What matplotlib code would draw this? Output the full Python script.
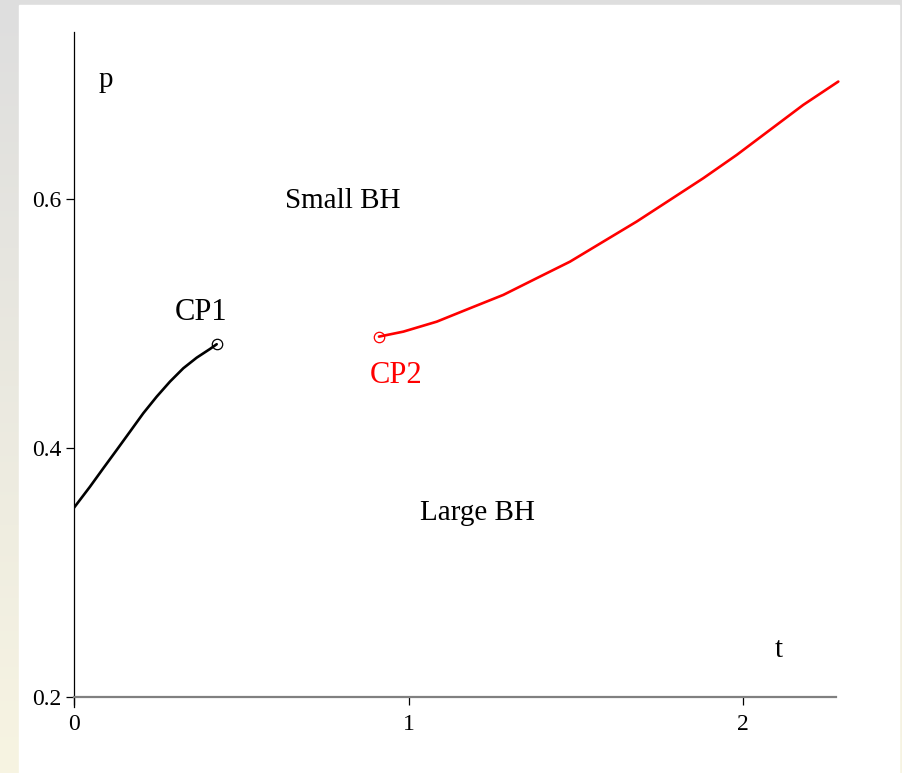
import numpy as np
import matplotlib.pyplot as plt
from matplotlib.colors import LinearSegmentedColormap
from matplotlib.patches import Rectangle

# Coexistence lines (t, p)
cp1_t = [0.0, 0.0478, 0.0876, 0.1277, 0.1674, 0.2072, 0.2472, 0.2870, 0.3268,
         0.3668, 0.4066, 0.4266]
cp1_p = [0.352, 0.3689, 0.3837, 0.3984, 0.4131, 0.4279, 0.4412, 0.4533, 0.4640,
         0.4725, 0.4795, 0.4833]

cp2_t = [0.9118, 0.9845, 1.0843, 1.1839, 1.2834, 1.3832, 1.4828, 1.5824, 1.6822,
         1.7818, 1.8813, 1.9812, 2.0807, 2.1803, 2.2849]
cp2_p = [0.4894, 0.4934, 0.5014, 0.5122, 0.5229, 0.5363, 0.5496, 0.5657, 0.5818,
         0.5992, 0.6166, 0.6353, 0.6554, 0.6755, 0.6942]

x_ticks = [0, 1, 2]
y_ticks = [0.2, 0.4, 0.6]

plt.rcParams['font.family'] = ['Liberation Serif', 'DejaVu Serif']

W, H = 902, 773
fig = plt.figure(figsize=(W / 100, H / 100), dpi=100)

# slide-like background: grey/cream gradient frame with a white panel
bg = fig.add_axes([0, 0, 1, 1])
bg.set_axis_off()
cmap = LinearSegmentedColormap.from_list('bg', ['#dedede', '#f7f4e2'])
grad = np.linspace(0, 1, 256).reshape(-1, 1)
bg.imshow(grad, aspect='auto', cmap=cmap, extent=[0, W, H, 0])
bg.add_patch(Rectangle((19, 5), 899 - 19, H - 5, color='white', zorder=2))
bg.set_xlim(0, W)
bg.set_ylim(H, 0)

# main axes
left, right, top, bottom = 74, 836, 32, 707
ax = fig.add_axes([left / W, (H - bottom) / H, (right - left) / W, (bottom - top) / H])
ax.patch.set_alpha(0)

ax.plot(cp1_t, cp1_p, color='black', lw=1.9, solid_capstyle='round')
ax.plot(cp1_t[-1], cp1_p[-1], 'o', mfc='none', mec='black', ms=7.5, mew=0.9)
ax.plot(cp2_t, cp2_p, color='red', lw=1.9, solid_capstyle='round', clip_on=False)
ax.plot(cp2_t[0], cp2_p[0], 'o', mfc='none', mec='red', ms=7.5, mew=0.9)

ax.set_xlim(0, 2.278)
ax.set_ylim(0.192, 0.734)

ax.spines['top'].set_visible(False)
ax.spines['right'].set_visible(False)
ax.spines['bottom'].set_position(('data', 0.2))
ax.spines['bottom'].set_color('#808080')
ax.spines['bottom'].set_linewidth(1.6)
ax.spines['left'].set_linewidth(0.9)

ax.set_xticks(x_ticks)
ax.set_xticklabels([str(v) for v in x_ticks])
ax.set_yticks(y_ticks)
ax.set_yticklabels([f'{v:.1f}' for v in y_ticks])
ax.tick_params(axis='both', direction='out', length=6, width=0.9, labelsize=17, color='black')
ax.tick_params(axis='x', pad=6)
ax.tick_params(axis='y', pad=3)

ax.text(0.0957, 0.6956, 'p', fontsize=21, ha='center', va='center')
ax.text(2.108, 0.2378, 't', fontsize=21, ha='center', va='center')
ax.text(0.804, 0.5984, 'Small BH', fontsize=21, ha='center', va='center')
ax.text(1.205, 0.3478, 'Large BH', fontsize=21, ha='center', va='center')
ax.text(0.380, 0.5084, 'CP1', fontsize=22, ha='center', va='center')
ax.text(0.963, 0.4578, 'CP2', fontsize=22, ha='center', va='center', color='red')

plt.savefig('out.png', dpi=100)
